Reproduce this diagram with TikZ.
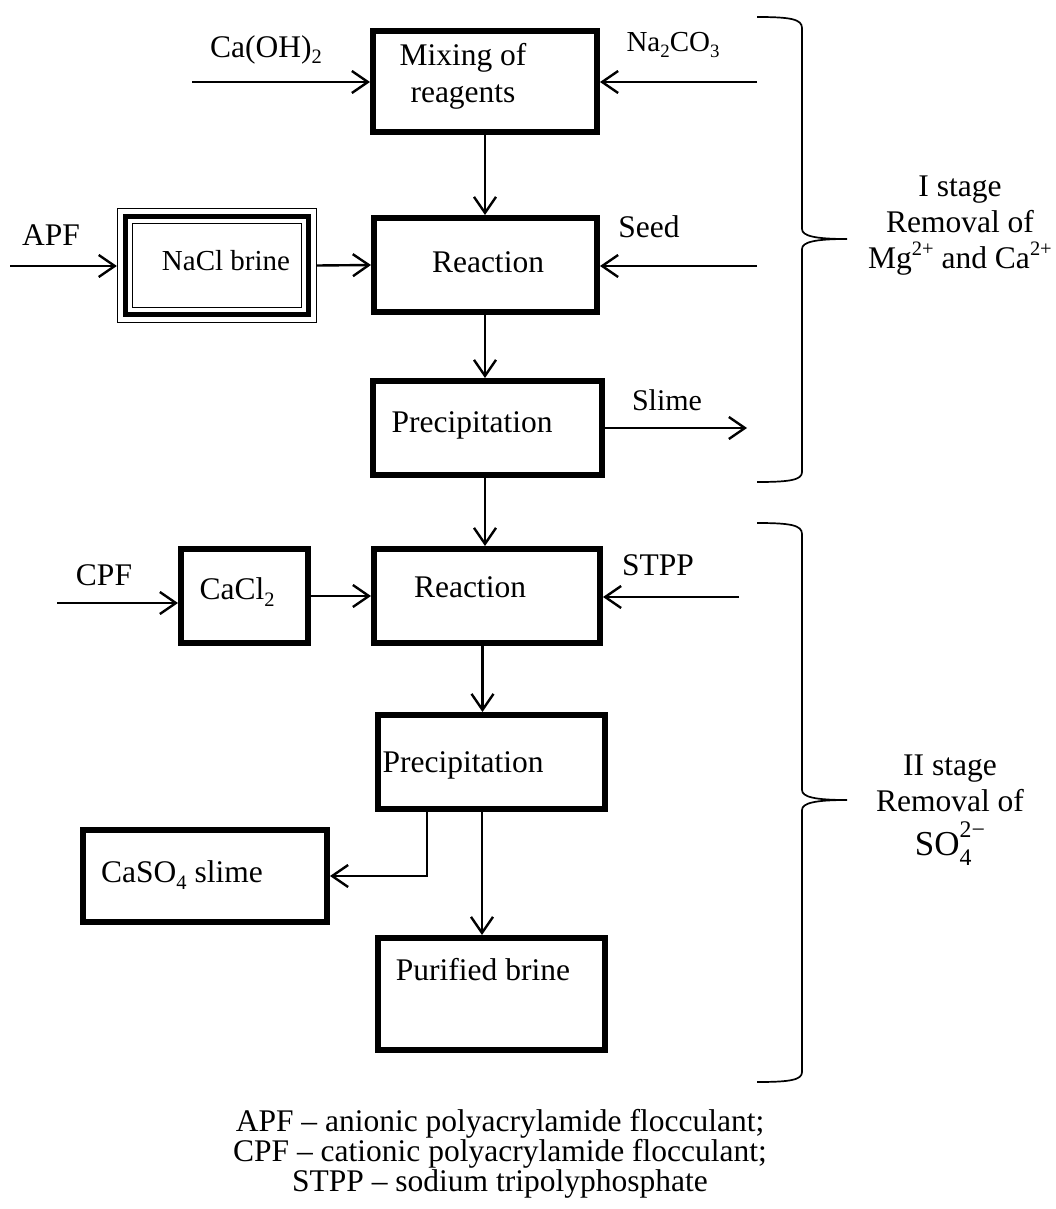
\documentclass[tikz,border=0pt]{standalone}
\usepackage{fontspec}
\setmainfont{Liberation Serif}
\usetikzlibrary{arrows.meta}
\newcommand\chsub[1]{\raisebox{-0.2em}{\scalebox{0.65}{#1}}}
\newcommand\chsup[1]{\raisebox{0.42em}{\scalebox{0.65}{#1}}}
\begin{document}
\begin{tikzpicture}[x=1pt,y=-1pt,
  box/.style={draw,line width=6pt,inner sep=0pt},
  thinbox/.style={draw,line width=1.3pt,inner sep=0pt},
  txt/.style={inner sep=0pt,font=\fontsize{31.5}{37}\selectfont,align=center},
  smalltxt/.style={inner sep=0pt,font=\fontsize{29}{34}\selectfont,align=center},
  flow/.style={line width=2.4pt,-{Straight Barb[length=16pt,width=22pt,line width=2.4pt]}},
  bracestyle/.style={line width=1.7pt}]
\useasboundingbox (0,0) rectangle (1056,1209);

% ---------- boxes ----------
\node[box,minimum width=224pt,minimum height=101pt] (mix) at (485,81.5) {};
\node[box,minimum width=223pt,minimum height=94pt] (react1) at (485.5,265) {};
\node[box,minimum width=229pt,minimum height=94pt] (precip1) at (487.5,428) {};
\node[box,minimum width=226pt,minimum height=94pt] (react2) at (487,596) {};
\node[box,minimum width=127pt,minimum height=94pt] (cacl) at (244.5,596) {};
\node[box,minimum width=227pt,minimum height=94pt] (precip2) at (491.5,762) {};
\node[box,minimum width=244pt,minimum height=92pt] (caso) at (205,876) {};
\node[box,minimum width=227pt,minimum height=112pt] (pur) at (491.5,994) {};
\node[thinbox,minimum width=199pt,minimum height=114pt] (nacl) at (217,265.5) {};
\draw[line width=5pt] ([shift={(8.5,8.5)}]nacl.north west) rectangle ([shift={(-8.5,-8.5)}]nacl.south east);
\draw[line width=1.5pt] ([shift={(15.5,15.5)}]nacl.north west) rectangle ([shift={(-15.5,-15.5)}]nacl.south east);

% ---------- box texts ----------
\node[txt] (mixT) at (463,76) {Mixing of\\reagents};
\node[txt] (react1T) at (488,262) {Reaction};
\node[txt] (precip1T) at (472,425) {Precipitation};
\node[txt] (react2T) at (470,587) {Reaction};
\node[txt] (caclT) at (237,592) {CaCl\chsub{2}};
\node[txt] (precip2T) at (463,765) {Precipitation};
\node[txt] (casoT) at (182,875) {CaSO\chsub{4} slime};
\node[txt] (purT) at (483,970) {Purified brine};
\node[smalltxt] (naclT) at (226,261) {NaCl brine};

% ---------- free ends ----------
\coordinate (caohS) at (192,82);
\coordinate (naS) at (757,82);
\coordinate (apfS) at (10,266);
\coordinate (seedS) at (757,266);
\coordinate (slimeE) at (747,428);
\coordinate (cpfS) at (57,603);
\coordinate (stppS) at (739,597);

% ---------- connectors ----------
\draw[flow] (caohS) -- (caohS -| mix.west);
\draw[flow] (naS) -- (naS -| mix.east);
\draw[flow] (mix.south) -- (mix.south |- react1.north);
\draw[flow] (apfS) -- (apfS -| nacl.west);
\draw[flow] (nacl.east) -- (react1.west);
\draw[flow] (seedS) -- (seedS -| react1.east);
\draw[flow] ([xshift=-0.5pt]react1.south) -- ([xshift=-0.5pt]react1.south |- precip1.north);
\draw[flow] (precip1.east) -- (slimeE);
\draw[flow] ([xshift=-2.5pt]precip1.south) -- ([xshift=-2.5pt]precip1.south |- react2.north);
\draw[flow] (cpfS) -- (cpfS -| cacl.west);
\draw[flow] (cacl.east) -- (react2.west);
\draw[flow] (stppS) -- (stppS -| react2.east);
\draw[flow] ([xshift=-4.5pt]react2.south) -- ([xshift=-4.5pt]react2.south |- precip2.north);
\draw[flow] ([xshift=-64.5pt]precip2.south) |- (caso.east);
\draw[flow] ([xshift=-9.5pt]precip2.south) -- ([xshift=-9.5pt]precip2.south |- pur.north);

% ---------- labels ----------
\node[txt] (caohL) at (266,50) {Ca(OH)\chsub{2}};
\node[smalltxt] (naL) at (673,45) {Na\chsub{2}CO\chsub{3}};
\node[txt] (apfL) at (51,235) {APF};
\node[txt] (seedL) at (649,227) {Seed};
\node[smalltxt,font=\fontsize{30}{34}\selectfont] (slimeL) at (667,400) {Slime};
\node[txt] (cpfL) at (104,575) {CPF};
\node[txt] (stppL) at (658,565) {STPP};

% ---------- braces ----------
\draw[bracestyle] (757,17) .. controls (790,17) and (802,19) .. (802,28) -- (802,229)
  .. controls (802,236) and (815,239) .. (847,239)
  .. controls (815,239) and (802,242) .. (802,249) -- (802,472)
  .. controls (802,480) and (790,482) .. (757,482);
\draw[bracestyle] (757,523) .. controls (790,523) and (802,525) .. (802,534) -- (802,790)
  .. controls (802,797) and (815,800) .. (847,800)
  .. controls (815,800) and (802,803) .. (802,810) -- (802,1072)
  .. controls (802,1080) and (790,1082) .. (757,1082);

\node[txt,font=\fontsize{31.5}{36}\selectfont] (stage1) at (960,226) {I stage\\Removal of\\Mg\chsup{2+} and Ca\chsup{2+}};
\node[txt,font=\fontsize{31.5}{36}\selectfont] (stage2) at (950,810) {II stage\\Removal of\\[8pt]{\fontsize{35}{40}\selectfont SO\makebox[0pt][l]{\raisebox{-0.3em}{\scalebox{0.68}{4}}}\raisebox{0.5em}{\scalebox{0.68}{2−}}}};

% ---------- legend ----------
\node[txt,anchor=base] (leg1) at (500,1131) {APF – anionic polyacrylamide flocculant;};
\node[txt,anchor=base] (leg2) at (500,1161) {CPF – cationic polyacrylamide flocculant;};
\node[txt,anchor=base] (leg3) at (500,1191) {STPP – sodium tripolyphosphate};
\end{tikzpicture}
\end{document}
